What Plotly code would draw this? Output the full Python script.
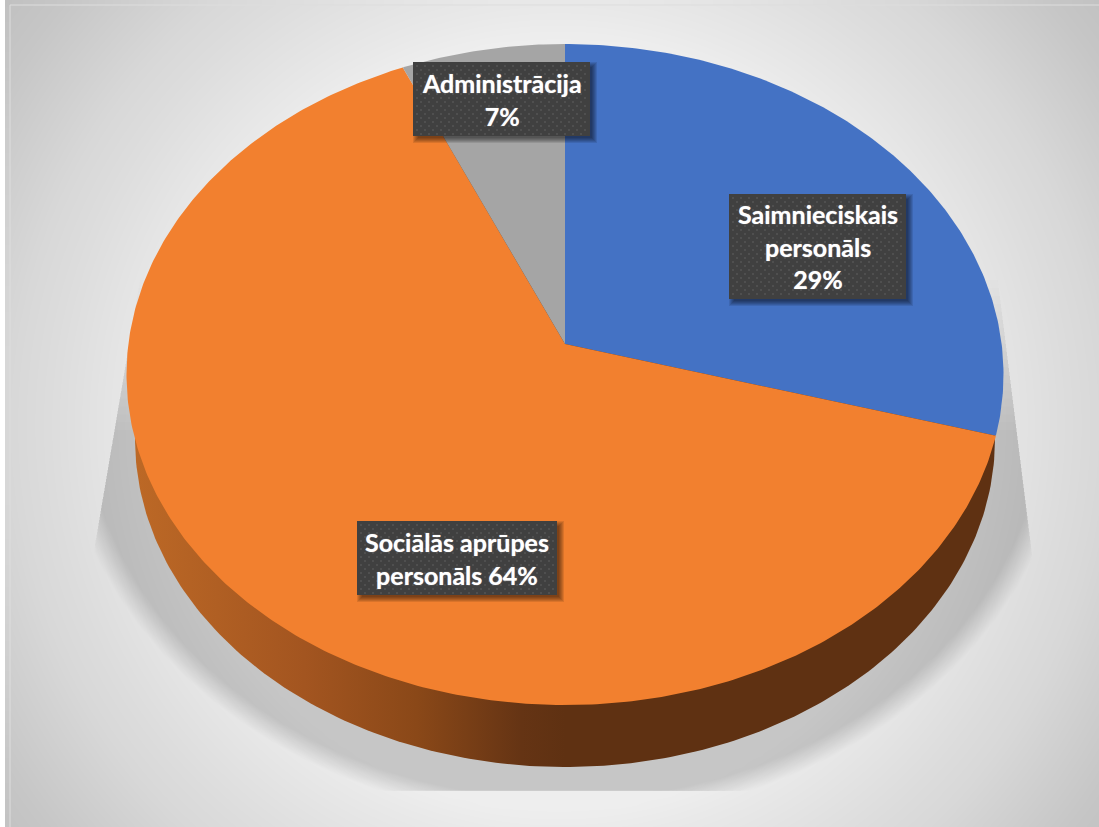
import numpy as np
import plotly.graph_objects as go

# ---- data ----
categories = ["Saimnieciskais personāls", "Sociālās aprūpes personāls", "Administrācija"]
values = [29.4, 64.0, 6.6]
label_lines = [["Saimnieciskais", "personāls", "{p}%"],
               ["Sociālās aprūpes", "personāls {p}%"],
               ["Administrācija", "{p}%"]]
colors = ["#4472C4", "#F2802F", "#A5A5A5"]

# ---- layout constants (pixels of the page) ----
W, H = 1099, 827
CX, APEX_Y = 565, 344
K = 0.0923
B = 327.7
A = 438.5 * np.sqrt(1 - K * K)
boxes = [(729, 906, 194, 299), (357, 557, 521, 595), (413, 590, 62, 136)]


def project(theta):
    X, Y = np.sin(theta), np.cos(theta)
    d = 1 + K * Y
    return CX + A * X / d, APEX_Y - B * Y / d


def ellipse(cy, rx, ry, n=400):
    t = np.linspace(0, 2 * np.pi, n)
    return CX + rx * np.cos(t), cy + ry * np.sin(t)


fig = go.Figure()


def poly(x, y, **kw):
    fig.add_trace(go.Scatter(x=list(x), y=list(y), mode="lines", fill="toself",
                             line=kw.pop("line", dict(width=0)), hoverinfo="skip",
                             showlegend=False, **kw))


# background panel: radial grey wash
gx = np.arange(10, W + 10, 10.0)
gy = np.arange(5, H + 10, 10.0)
dist = np.hypot(gx[None, :] - 558, gy[:, None] - 425)
stops_d = [0, 385, 415, 480, 510, 545, 650, 720]
stops_g = [242, 238, 233, 224, 220, 216, 198, 190]
fig.add_trace(go.Heatmap(x=gx, y=gy, z=np.interp(dist, stops_d, stops_g), zmin=0, zmax=255,
                         zsmooth="best", showscale=False, hoverinfo="skip",
                         colorscale=[[0, "#000000"], [1, "#ffffff"]]))
fig.add_trace(go.Scatter(x=[10, 10, W], y=[H, 5, 5], mode="lines", hoverinfo="skip", showlegend=False,
                         line=dict(width=1, color="#dddddd")))


# soft shadow clipped to a trapezoid whose top fades upward
def clip_shadow(x, y, top):
    y = np.clip(y, top, 791)
    xl = 125 - 0.17 * (y - 367)
    xr = 1008 + 0.125 * (y - 360)
    return np.clip(x, xl, xr), y


N = 20
for i in range(N):
    f = i / (N - 1)
    rx = 505 + (482 - 505) * f
    ry = 420 + (400 - 420) * f
    ex, ey = ellipse(400, rx, ry)
    sx, sy = clip_shadow(ex, ey, 280 + 150 * f)
    poly(sx, sy, fillcolor="rgba(0,0,0,0.0095)")

# side wall of the disc
wx, wy = ellipse(439, 430, 328)
poly(wx, wy,
     fillgradient=dict(type="horizontal", start=130, stop=1000,
                       colorscale=[[0, "#BD6926"], [0.2, "#A35520"], [0.33, "#8A4818"],
                                   [0.45, "#653414"], [0.5, "#5F3112"], [1, "#5F3112"]]))

# top face slices
total = sum(values)
start = 0.0
for v, c, name in zip(values, colors, categories):
    end = start + v / total * 2 * np.pi
    t = np.linspace(start, end, max(int(v * 6), 8))
    ax, ay = project(t)
    poly(np.r_[CX, ax, CX], np.r_[APEX_Y, ay, APEX_Y], fillcolor=c, name=name)
    start = end

# label boxes: shadow, body, dotted texture, text
for (x0, x1, y0, y1), lines, v in zip(boxes, label_lines, values):
    for g in range(5, -1, -1):
        sx0, sx1, sy0, sy1 = x0 + 5 - g, x1 + 2 + g, y0 + 5 - g, y1 + 2 + g
        poly([sx0, sx1, sx1, sx0, sx0], [sy0, sy0, sy1, sy1, sy0], fillcolor="rgba(0,0,0,0.10)")
    poly([x0, x1, x1, x0, x0], [y0, y0, y1, y1, y0], fillcolor="#404040")
    dx, dy = [], []
    for r, yy in enumerate(np.arange(y0 + 4, y1 - 1, 4.0)):
        for xx in np.arange(x0 + 4 + (r % 2) * 4, x1 - 1, 8.0):
            dx.append(xx)
            dy.append(yy)
    fig.add_trace(go.Scatter(x=dx, y=dy, mode="markers", hoverinfo="skip", showlegend=False,
                             marker=dict(symbol="square", size=2, color="#4F4F4F", line=dict(width=0))))
    text = "<br>".join(lines).format(p=round(v))
    fig.add_annotation(x=(x0 + x1) / 2, y=(y0 + y1) / 2, text=text, showarrow=False,
                       xref="x", yref="y", align="center",
                       font=dict(family="Lato", size=25, color="#ffffff",
                                 weight="bold", shadow="0 0 1px rgba(255,255,255,0.7)"))

fig.update_layout(width=W, height=H, autosize=False, margin=dict(l=0, r=0, t=0, b=0),
                  paper_bgcolor="#ffffff", plot_bgcolor="#ffffff", showlegend=False,
                  xaxis=dict(range=[0, W], visible=False, fixedrange=True),
                  yaxis=dict(range=[H, 0], visible=False, fixedrange=True))

fig.write_html("out.html",
               post_script="document.body.style.margin='0';document.body.style.overflow='hidden';",
               config=dict(displayModeBar=False))
